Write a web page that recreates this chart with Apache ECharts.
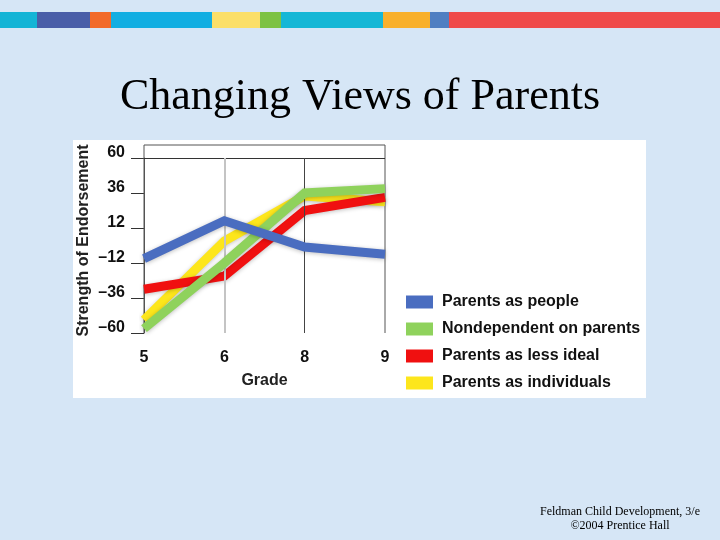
<!DOCTYPE html>
<html>
<head>
<meta charset="utf-8">
<script src="https://cdn.jsdelivr.net/npm/echarts@6/dist/echarts.min.js"></script>
<style>
html,body{margin:0;padding:0;background:#d6e6f6;}
#c{width:720px;height:540px;}
</style>
</head>
<body>
<div id="c"></div>
<script>
var grades = ['5', '6', '8', '9'];
var parentsAsPeople = [-9, 17, -1, -6];
var nondependent = [-57, -12, 36, 39];
var lessIdeal = [-30, -21, 24, 33];
var asIndividuals = [-51, 3, 34, 30];
var seriesNames = ['Parents as people', 'Nondependent on parents', 'Parents as less ideal', 'Parents as individuals'];
var seriesColors = ['#4a6dc0', '#8fd25c', '#f01010', '#fde61c'];
var yTicks = {min: -60, max: 60, interval: 24};
var barSegments = [
  [0, 37, '#14b4d6'], [37, 90, '#4a5ea8'], [90, 111, '#f26a2a'], [111, 212, '#12aee2'],
  [212, 260, '#fbdf68'], [260, 281, '#7cc244'], [281, 383, '#15b7d6'], [383, 430, '#f8b02c'],
  [430, 449, '#4f7fc2'], [449, 720, '#ef4a4a']
];

var chart = echarts.init(document.getElementById('c'), null, {renderer: 'canvas'});

var graphics = [];
barSegments.forEach(function (s) {
  graphics.push({type: 'rect', z: 0, shape: {x: s[0], y: 12, width: s[1] - s[0], height: 16}, style: {fill: s[2]}});
});
graphics.push({type: 'rect', z: -1, silent: true, shape: {x: 73, y: 140, width: 573, height: 258}, style: {fill: '#ffffff'}});
graphics.push({type: 'polyline', z: 1, shape: {points: [[144, 333], [144, 145], [385, 145], [385, 333]]}, style: {stroke: '#555', lineWidth: 1, fill: null}});
graphics.push({type: 'text', z: 2, style: {text: 'Changing Views of Parents', x: 360, y: 97, align: 'center', verticalAlign: 'middle', font: '44px "Liberation Serif", "Times New Roman", serif', fill: '#000'}});
graphics.push({type: 'text', z: 2, style: {text: 'Feldman Child Development, 3/e\n\u00a92004 Prentice Hall', x: 620, y: 519, align: 'center', verticalAlign: 'middle', lineHeight: 14, font: '12px "Liberation Serif", "Times New Roman", serif', fill: '#000'}});

function mkSeries(i, data, z) {
  return {
    name: seriesNames[i], type: 'line', data: data, z: z,
    symbol: 'none', smooth: false,
    lineStyle: {width: 9, color: seriesColors[i], shadowBlur: 4, shadowColor: 'rgba(0,0,0,0.25)', shadowOffsetY: 1, cap: 'butt', join: 'miter'},
    itemStyle: {color: seriesColors[i]}
  };
}

var boldFont = '"Liberation Sans", Arial, sans-serif';

chart.setOption({
  backgroundColor: 'transparent',
  animation: false,
  graphic: graphics,
  grid: {left: 144, right: 335, top: 158, bottom: 207},
  legend: {
    data: seriesNames,
    orient: 'vertical', left: 406, top: 294, padding: 0,
    icon: 'rect', itemWidth: 27, itemHeight: 13, itemGap: 11,
    textStyle: {fontFamily: boldFont, fontWeight: 'bold', fontSize: 16, color: '#111', padding: [0, 0, 0, 4]}
  },
  xAxis: {
    type: 'category', data: grades, boundaryGap: false,
    name: 'Grade', nameLocation: 'middle', nameGap: 40,
    nameTextStyle: {fontFamily: boldFont, fontWeight: 'bold', fontSize: 16, color: '#222'},
    axisLine: {show: false}, axisTick: {show: false},
    axisLabel: {fontFamily: boldFont, fontWeight: 'bold', fontSize: 16, color: '#111', margin: 17},
    splitLine: {show: false}
  },
  yAxis: {
    type: 'value', min: yTicks.min, max: yTicks.max, interval: yTicks.interval,
    name: 'Strength of Endorsement', nameLocation: 'middle', nameGap: 52,
    nameTextStyle: {fontFamily: boldFont, fontWeight: 'bold', fontSize: 16, color: '#222', padding: [0, 0, 0, 10]},
    axisLine: {show: true, lineStyle: {color: '#555', width: 1}},
    axisTick: {show: true, inside: false, length: 13, lineStyle: {color: '#333', width: 1}},
    axisLabel: {
      fontFamily: boldFont, fontWeight: 'bold', fontSize: 16, color: '#111', margin: 19,
      verticalAlign: 'bottom', lineHeight: 10,
      formatter: function (v) { return String(v).replace('-', '\u2013'); }
    },
    splitLine: {show: false}
  },
  series: [
    {
      name: 'grid-lines', type: 'line', data: [], z: 1, silent: true,
      markLine: {
        silent: true, symbol: 'none', label: {show: false}, animation: false,
        data: [
          {yAxis: yTicks.max, lineStyle: {color: '#333', width: 1, type: 'solid'}},
          {xAxis: '6', lineStyle: {color: '#c4c4c4', width: 2, type: 'solid'}},
          {xAxis: '8', lineStyle: {color: '#444', width: 1, type: 'solid'}}
        ]
      }
    },
    mkSeries(0, parentsAsPeople, 6),
    mkSeries(1, nondependent, 5),
    mkSeries(2, lessIdeal, 4),
    mkSeries(3, asIndividuals, 3)
  ]
});
</script>
</body>
</html>
